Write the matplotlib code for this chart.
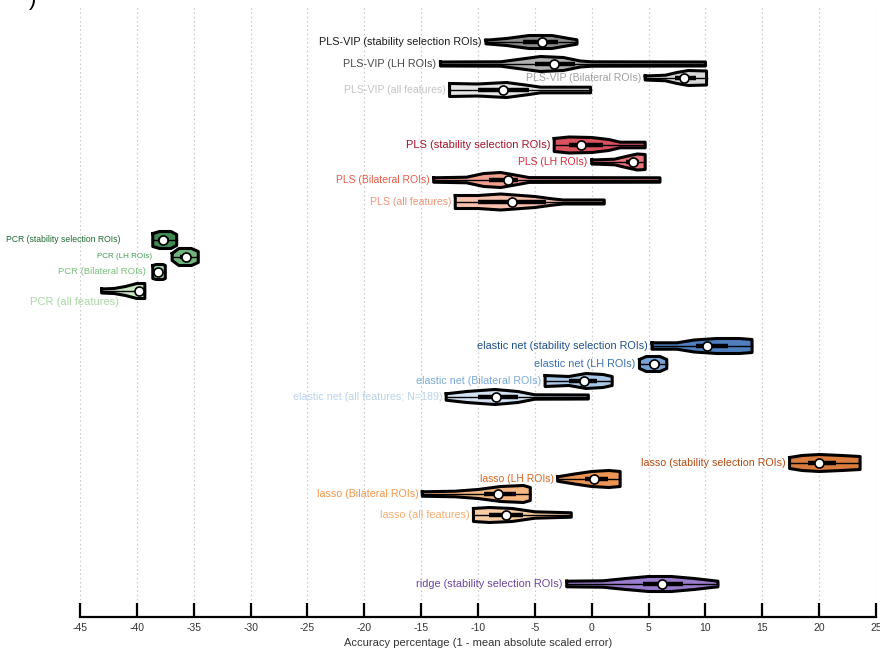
import matplotlib
matplotlib.use("Agg")
from matplotlib import pyplot as plt
from matplotlib import rc

rc('font', **{'family': 'sans-serif', 'sans-serif': ['Liberation Sans', 'DejaVu Sans']})

# one entry per violin, top to bottom
labels = [
    'PLS-VIP (stability selection ROIs)', 'PLS-VIP (LH ROIs)',
    'PLS-VIP (Bilateral ROIs)', 'PLS-VIP (all features)',
    'PLS (stability selection ROIs)', 'PLS (LH ROIs)',
    'PLS (Bilateral ROIs)', 'PLS (all features)',
    'PCR (stability selection ROIs)', 'PCR (LH ROIs)',
    'PCR (Bilateral ROIs)', 'PCR (all features)',
    'elastic net (stability selection ROIs)', 'elastic net (LH ROIs)',
    'elastic net (Bilateral ROIs)', 'elastic net (all features; N=189)',
    'lasso (stability selection ROIs)', 'lasso (LH ROIs)',
    'lasso (Bilateral ROIs)', 'lasso (all features)',
    'ridge (stability selection ROIs)',
]
medians = [-4.4, -3.3, 8.1, -7.8,
           -0.9, 3.6, -7.4, -7.0,
           -37.7, -35.7, -38.1, -39.8,
           10.1, 5.5, -0.7, -8.4,
           20.0, 0.2, -8.2, -7.5,
           6.2]
q1s = [-6.0, -5.0, 7.3, -10.0,
       -2.0, 3.0, -9.0, -10.0,
       -38.1, -36.2, -38.4, -40.2,
       9.2, 5.0, -2.0, -10.0,
       19.0, -0.6, -9.5, -9.0,
       4.5]
q3s = [-3.0, -1.5, 9.2, -5.5,
       1.0, 4.2, -6.5, -4.0,
       -37.2, -35.2, -37.8, -39.5,
       12.0, 6.0, 0.5, -6.5,
       21.5, 1.4, -6.7, -6.0,
       8.0]
# density outline of each violin: x positions and half widths
prof_x = [
    [-9.3, -7.5, -5.5, -3.5, -2.0, -1.3],
    [-13.3, -8.0, -6.5, -4.5, -2.5, -1.0, 0.0, 10.0],
    [4.7, 6.5, 7.5, 8.5, 10.1],
    [-12.5, -10.0, -7.5, -5.5, -4.5, -0.1],
    [-3.3, -2.0, 0.0, 1.5, 2.5, 4.7],
    [0.0, 2.0, 3.0, 4.0, 4.7],
    [-13.9, -11.0, -9.5, -8.0, -6.5, -5.5, 6.0],
    [-12.0, -10.0, -8.0, -5.0, -3.5, -2.5, 1.1],
    [-38.6, -38.0, -37.0, -36.5],
    [-36.9, -36.3, -35.2, -34.6],
    [-38.6, -38.3, -37.7, -37.5],
    [-43.1, -42.0, -41.0, -40.0, -39.3],
    [5.3, 7.5, 9.0, 11.0, 13.0, 14.1],
    [4.2, 4.8, 6.0, 6.6],
    [-4.1, -2.0, -0.5, 1.0, 1.8],
    [-12.8, -11.0, -8.5, -6.5, -5.0, -0.3],
    [17.4, 18.5, 20.0, 22.0, 23.6],
    [-3.0, -1.5, 0.0, 1.5, 2.5],
    [-14.9, -12.0, -10.0, -8.0, -6.0, -5.4],
    [-10.4, -9.0, -7.0, -5.0, -1.8],
    [-2.2, 1.0, 3.0, 5.0, 7.0, 9.0, 11.1],
]
prof_w = [
    [1.8, 3.5, 6.5, 6.5, 3.5, 2.2],
    [2.0, 2.2, 4.5, 7.5, 6.5, 3.0, 2.2, 2.0],
    [2.0, 2.8, 5.5, 7.5, 7.0],
    [6.5, 6.0, 7.5, 4.5, 2.8, 2.8],
    [6.5, 8.0, 7.5, 5.5, 2.8, 2.8],
    [2.0, 2.8, 5.5, 8.0, 7.5],
    [2.2, 2.8, 6.5, 7.5, 4.5, 2.4, 2.2],
    [6.5, 6.5, 8.0, 5.5, 3.2, 2.0, 2.0],
    [6.5, 8.5, 8.5, 5.5],
    [3.5, 8.5, 8.5, 5.5],
    [6.5, 7.5, 7.5, 6.5],
    [2.0, 2.5, 4.5, 7.5, 7.5],
    [3.2, 3.2, 6.0, 7.5, 7.5, 6.5],
    [4.5, 7.5, 7.5, 4.5],
    [5.5, 4.5, 7.5, 6.5, 4.5],
    [3.2, 5.5, 7.5, 5.5, 2.2, 2.0],
    [5.5, 7.5, 8.5, 7.5, 6.5],
    [2.2, 5.0, 7.5, 8.5, 7.5],
    [2.2, 2.8, 4.5, 7.5, 8.5, 6.5],
    [6.5, 7.5, 6.5, 3.2, 2.2],
    [2.8, 3.2, 5.5, 7.5, 7.5, 5.5, 2.8],
]

# layout: row centres in pixel units, label colours, fill colours, label sizes
rows_y = [42, 64, 78, 90, 145, 162, 180, 202, 240, 257, 272, 291,
          346, 364, 381, 397, 463, 479, 494, 515, 584]
label_colors = ['#1a1a1a', '#4a4a4a', '#a0a0a0', '#c4c4c4',
                '#a3132b', '#d8283a', '#ea5a48', '#f29478',
                '#1e6b30', '#3f9c52', '#78bf7c', '#a9d9a2',
                '#1f4f8c', '#3a72b3', '#7aa9d9', '#b9d2ec',
                '#b34a12', '#d9661f', '#f29545', '#f5ad6e',
                '#6b45a3']
fill_colors = ['#8c8c8c', '#b0b0b0', '#d8d8d8', '#e6e6e6',
               '#d9535f', '#e8737b', '#f0a08c', '#f6c0ac',
               '#3f8a50', '#6fb57c', '#a3d5a5', '#c9e8c3',
               '#4f7fbf', '#78a4d6', '#a9c8e8', '#d4e3f4',
               '#d97a3f', '#ec9555', '#f6b882', '#f8cca3',
               '#9a7ccc']
label_sizes = [7.8, 7.8, 7.6, 7.6,
               8.0, 7.5, 7.5, 7.6,
               6.2, 5.8, 6.8, 8.0,
               7.8, 7.8, 7.7, 7.7,
               7.7, 7.5, 7.7, 7.8,
               7.9]
# label anchor shift in pixels (x, y) from the left end of each violin
label_dx = [-4] * 8 + [-32, -20, -7, 17] + [-4] * 9
label_dy = [0] * 11 + [-11] + [0] * 9

fig = plt.figure(figsize=(8.8, 6.48), dpi=100)
ax = fig.add_axes([80/880, 31/648, 796/880, 612/648])
ax.set_xlim(-45, 25)
ax.set_ylim(617, 5)

for i in range(len(labels)):
    y = rows_y[i]
    xs = prof_x[i]
    ws = prof_w[i]
    top = [y - w for w in ws]
    bot = [y + w for w in ws]
    ax.fill_between(xs, top, bot, color=fill_colors[i], lw=0, zorder=2)
    ax.plot(xs + xs[::-1] + [xs[0]], top + bot[::-1] + [top[0]],
            color='black', lw=2.2, zorder=3, solid_joinstyle='round')
    ax.plot([xs[0], xs[-1]], [y, y], color='black', lw=1.0, zorder=4)
    ax.plot([q1s[i], q3s[i]], [y, y], color='black', lw=3.2, zorder=4,
            solid_capstyle='butt')
    ax.plot(medians[i], y, 'o', ms=6.5, mfc='white', mec='black', mew=1.2,
            zorder=5)
    ax.annotate(labels[i], xy=(xs[0], y), xytext=(label_dx[i], label_dy[i]),
                textcoords='offset pixels', ha='right', va='center',
                fontsize=label_sizes[i], color=label_colors[i], zorder=6)

ticks = list(range(-45, 26, 5))
for t in ticks:
    ax.axvline(t, color='#c8c8c8', lw=0.9, linestyle=(0, (1.2, 2.2)), zorder=0)

ax.set_xticks(ticks)
ax.set_xticklabels([str(t) for t in ticks])
ax.set_yticks([])
for side in ['top', 'left', 'right']:
    ax.spines[side].set_visible(False)
ax.spines['bottom'].set_linewidth(1.6)
ax.tick_params(axis='x', direction='in', length=10, width=1.6,
               labelsize=7.5, labelcolor='#333333', pad=4)
ax.set_xlabel('Accuracy percentage (1 - mean absolute scaled error)',
              fontsize=8, color='#333333', labelpad=4)

# panel letter, cut at the top edge
fig.text(0.037, 1.0, ')', fontsize=16, ha='center', va='center', color='black')

fig.savefig('out.png', dpi=100)
